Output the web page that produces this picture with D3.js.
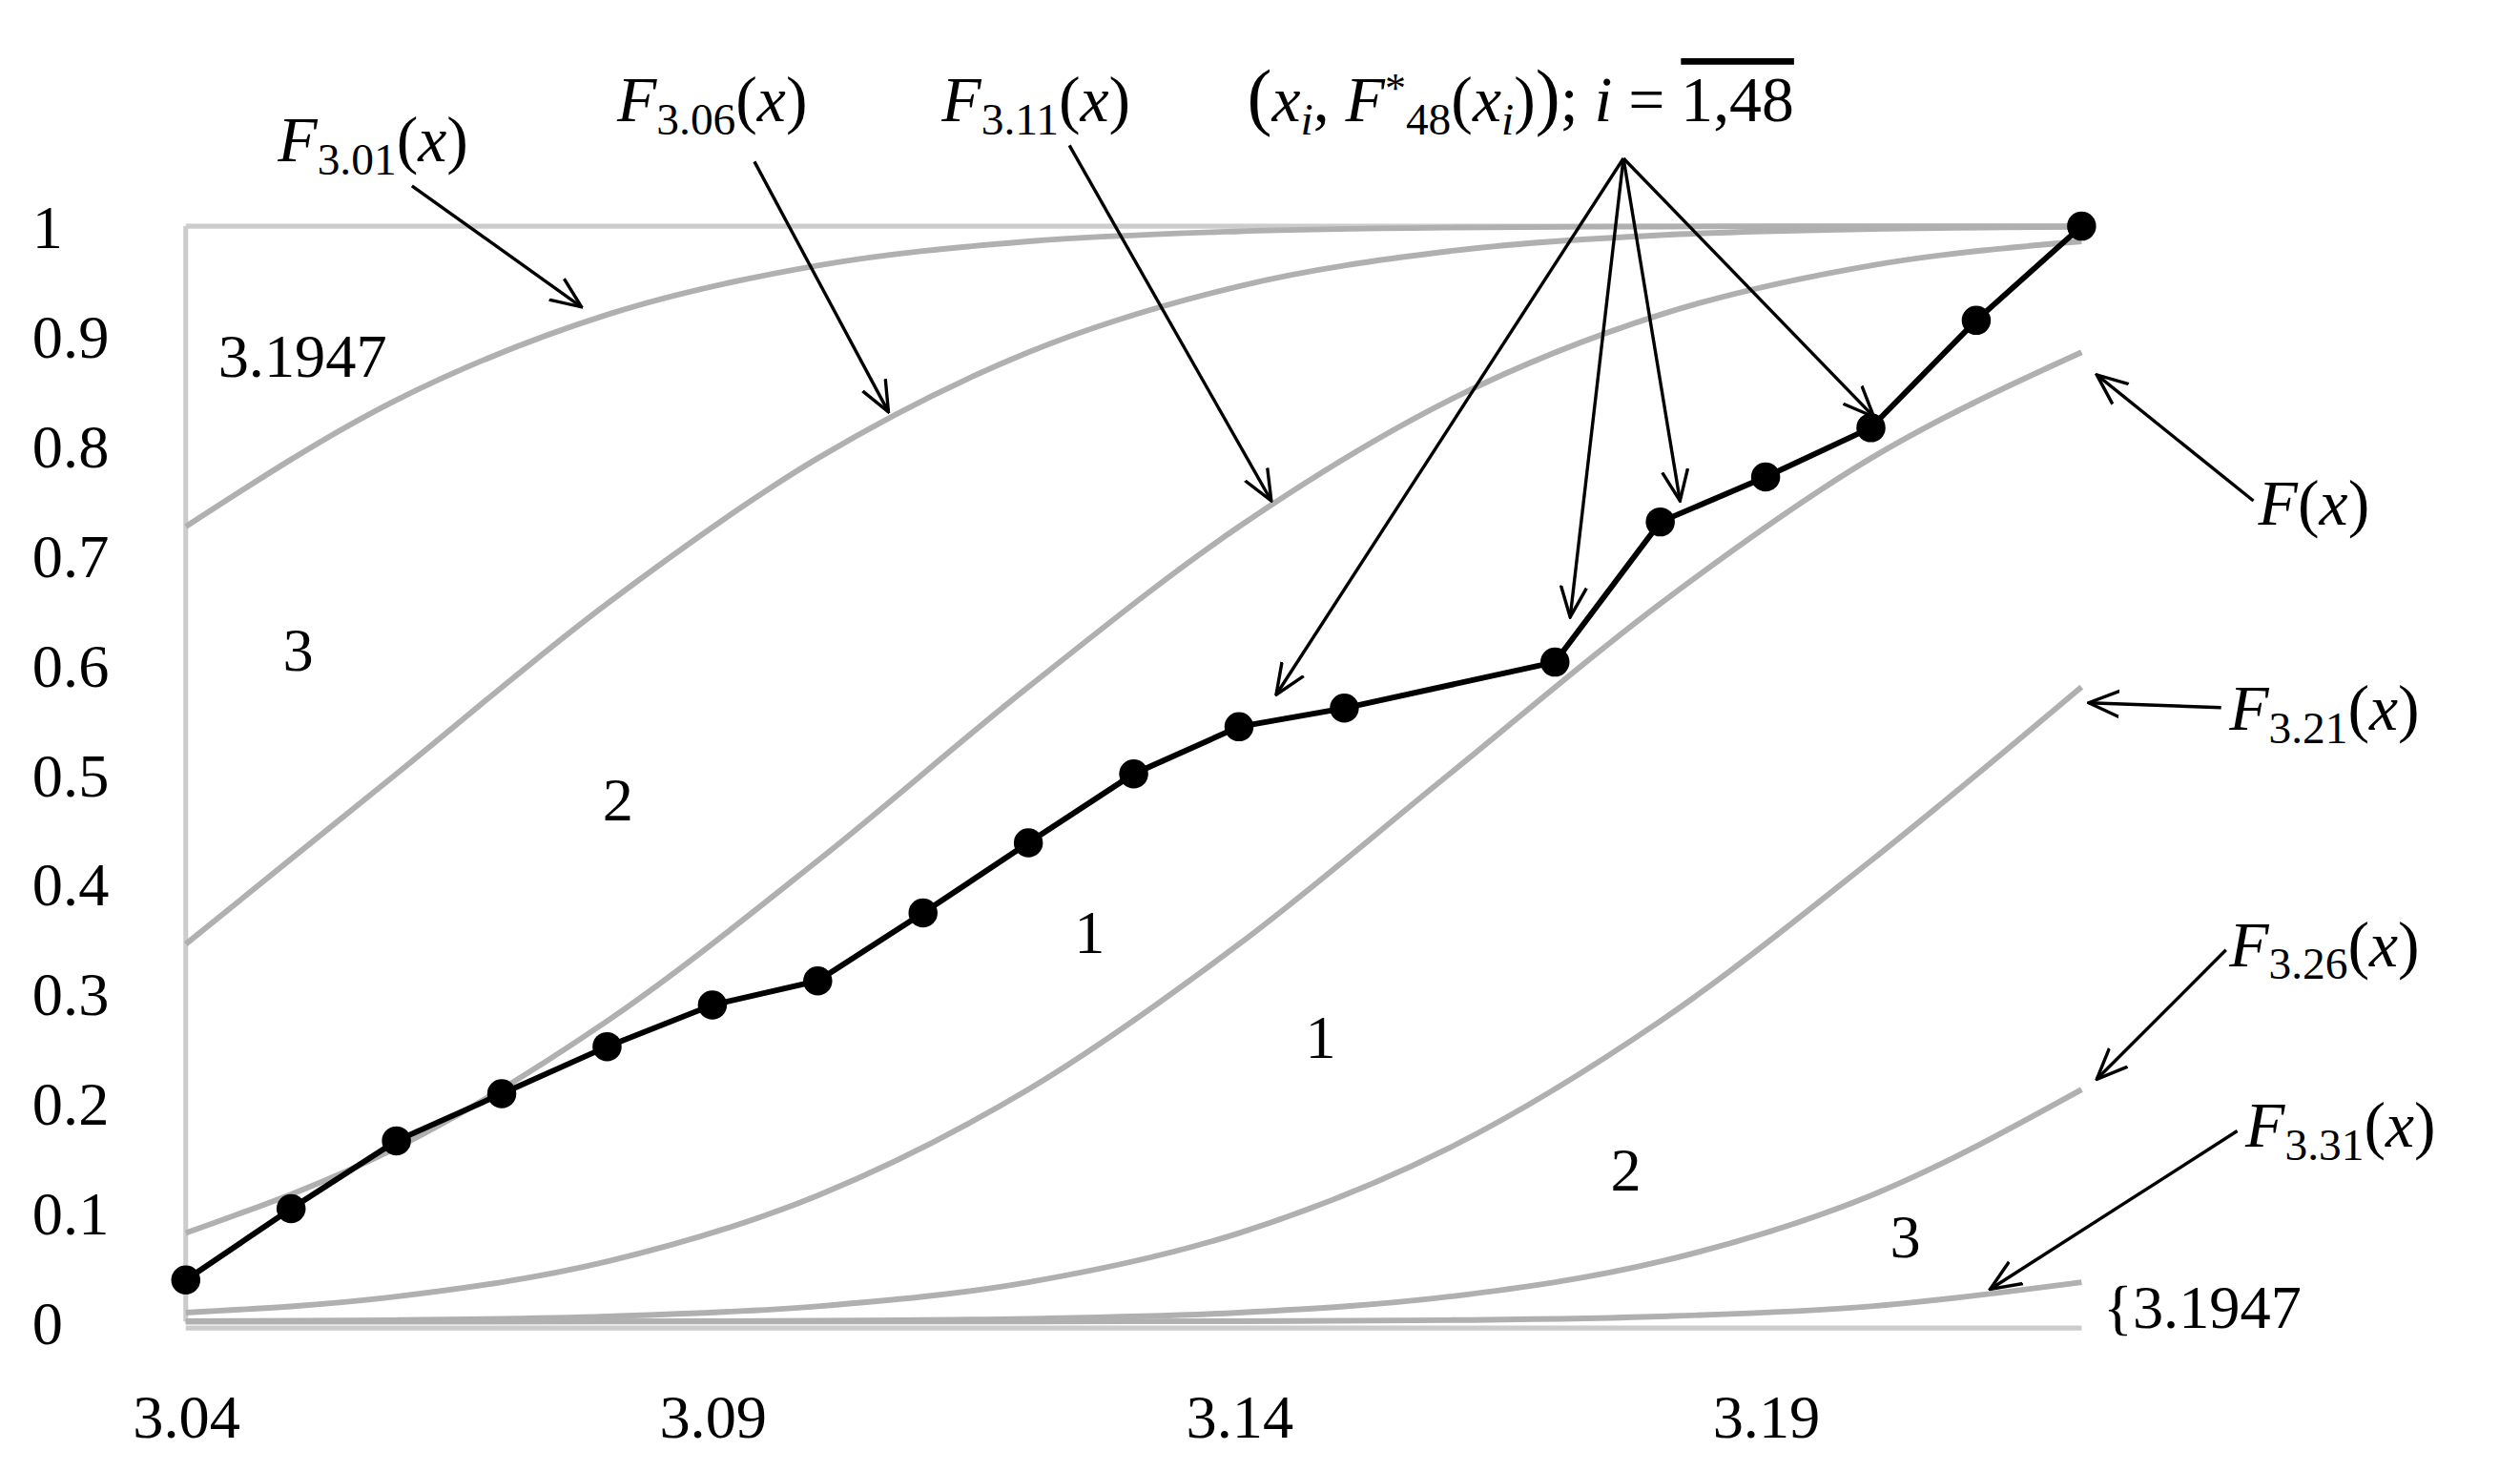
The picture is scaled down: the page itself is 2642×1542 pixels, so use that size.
<!DOCTYPE html>
<html><head><meta charset="utf-8">
<script src="https://cdn.jsdelivr.net/npm/d3@7"></script>
<style>body{margin:0;background:#fff}svg{display:block}</style>
</head><body><svg id="c"></svg>
<script>
const xTicks=[3.04,3.09,3.14,3.19];
const yTicks=[0,0.1,0.2,0.3,0.4,0.5,0.6,0.7,0.8,0.9,1];
const gridX=[3.04,3.06,3.08,3.10,3.12,3.14,3.16,3.18,3.20,3.22];
const F301=[0.7257,0.8413,0.9192,0.9641,0.9861,0.9953,0.9987,0.9997,0.9999,1.0];
const F306=[0.3446,0.5,0.6554,0.7881,0.8849,0.9452,0.9772,0.9918,0.9974,0.9993];
const F311=[0.0808,0.1587,0.2743,0.4207,0.5793,0.7257,0.8413,0.9192,0.9641,0.9861];
const F316=[0.0082,0.0228,0.0548,0.1151,0.2119,0.3446,0.5,0.6554,0.7881,0.8849];
const F321=[0.0003,0.0013,0.0047,0.0139,0.0359,0.0808,0.1587,0.2743,0.4207,0.5793];
const F326=[0,0,0.0002,0.0007,0.0026,0.0082,0.0228,0.0548,0.1151,0.2119];
const F331=[0,0,0,0,0.0001,0.0003,0.0013,0.0047,0.0139,0.0359];
const ptX=[3.04,3.05,3.06,3.07,3.08,3.09,3.10,3.11,3.12,3.13,3.14,3.15,3.17,3.18,3.19,3.20,3.21,3.22];
const ptY=[0.038,0.103,0.165,0.208,0.251,0.289,0.311,0.373,0.437,0.5,0.543,0.56,0.602,0.73,0.771,0.816,0.914,1.0];

const svg=d3.select("#c").attr("width",2642).attr("height",1542).attr("viewBox","0 0 1560 910.5");
const x=d3.scaleLinear().domain([3.04,3.19]).range([115,1093]);
const y=d3.scaleLinear().domain([0,1]).range([818,140]);
const font="Liberation Serif";

svg.append("line").attr("x1",x(3.04)).attr("x2",x(3.04)).attr("y1",y(1)).attr("y2",y(0)).attr("stroke","#ccc").attr("stroke-width",3);
svg.append("line").attr("x1",x(3.04)).attr("x2",x(3.22)).attr("y1",y(0)+4).attr("y2",y(0)+4).attr("stroke","#ccc").attr("stroke-width",3);
svg.append("line").attr("x1",x(3.04)).attr("x2",x(3.22)).attr("y1",y(1)).attr("y2",y(1)).attr("stroke","#ccc").attr("stroke-width",3);

const yAx=svg.append("g").call(d3.axisLeft(y).tickValues(yTicks).tickSize(0).tickFormat(d=>d3.format("")(d)));
yAx.select(".domain").remove();
yAx.selectAll("text").attr("font-family",font).attr("font-size",38).attr("fill","#000").attr("text-anchor","start").attr("x",20).attr("dy","0.35em");
const xAx=svg.append("g").attr("transform",`translate(0,${y(0)+50})`).call(d3.axisBottom(x).tickValues(xTicks).tickSize(0).tickFormat(d3.format(".2f")));
xAx.select(".domain").remove();
xAx.selectAll("text").attr("font-family",font).attr("font-size",38).attr("fill","#000").attr("dy","0.5em");

const line=d3.line().x((d,i)=>x(gridX[i])).y(d=>y(d)).curve(d3.curveMonotoneX);
[F301,F306,F311,F316,F321,F326,F331].forEach(s=>{
  svg.append("path").attr("d",line(s)).attr("fill","none").attr("stroke","#b0b0b0").attr("stroke-width",3.5);
});

const pl=d3.line().x((d,i)=>x(ptX[i])).y(d=>y(d));
svg.append("path").attr("d",pl(ptY)).attr("fill","none").attr("stroke","#000").attr("stroke-width",3.5);
svg.selectAll("circle.p").data(ptY).join("circle").attr("cx",(d,i)=>x(ptX[i])).attr("cy",d=>y(d)).attr("r",9).attr("fill","#000");

svg.append("defs").append("marker").attr("id","ah").attr("viewBox","0 0 20 20").attr("refX",19).attr("refY",10)
 .attr("markerWidth",20).attr("markerHeight",20).attr("markerUnits","userSpaceOnUse").attr("orient","auto")
 .append("path").attr("d","M0,2 L19,10 L0,18").attr("fill","none").attr("stroke","#000").attr("stroke-width",2);
const arrows=[[255,115,360,190],[467,100,550,255],[662,90,787,310],[1005,98,790,430],[1005,98,972,382],[1005,98,1040,310],[1005,98,1160,258],
 [1395,310,1298,232],[1375,438,1293,435],[1378,588,1298,668],[1385,700,1232,798]];
arrows.forEach(a=>svg.append("line").attr("x1",a[0]).attr("y1",a[1]).attr("x2",a[2]).attr("y2",a[3]).attr("stroke","#000").attr("stroke-width",2).attr("marker-end","url(#ah)"));

function flabel(px,py,sub){
  const t=svg.append("text").attr("x",px).attr("y",py).attr("font-family",font).attr("font-size",40);
  t.append("tspan").attr("font-style","italic").text("F");
  if(sub) t.append("tspan").attr("font-size",28).attr("dy",8).text(sub);
  t.append("tspan").attr("dy",sub?-8:0).text("(");
  t.append("tspan").attr("font-style","italic").text("x");
  t.append("tspan").text(")");
}
flabel(172,100,"3.01");flabel(382,75,"3.06");flabel(583,75,"3.11");
flabel(1398,325,"");flabel(1380,452,"3.21");flabel(1380,598,"3.26");flabel(1390,710,"3.31");
const t=svg.append("text").attr("x",772).attr("y",75).attr("font-family",font).attr("font-size",40);
t.append("tspan").attr("font-size",46).text("(");
t.append("tspan").attr("font-style","italic").text("x");
t.append("tspan").attr("font-size",28).attr("font-style","italic").attr("dy",8).text("i");
t.append("tspan").attr("dy",-8).text(", ");
t.append("tspan").attr("font-style","italic").text("F");
t.append("tspan").attr("font-size",26).attr("dy",-12).text("*");
t.append("tspan").attr("font-size",28).attr("dy",20).text("48");
t.append("tspan").attr("dy",-8).text("(");
t.append("tspan").attr("font-style","italic").text("x");
t.append("tspan").attr("font-size",28).attr("font-style","italic").attr("dy",8).text("i");
t.append("tspan").attr("dy",-8).text(")");
t.append("tspan").attr("font-size",46).text(")");
t.append("tspan").text("; ");
t.append("tspan").attr("font-style","italic").text("i");
t.append("tspan").text(" = ");
t.append("tspan").attr("text-decoration","overline").text("1,48");

const plain=[["3.1947",135,233],["3",175,415],["2",373,508],["1",665,590],["1",808,655],["2",997,737],["3",1170,778],["{3.1947",1302,822]];
plain.forEach(p=>svg.append("text").attr("x",p[1]).attr("y",p[2]).attr("font-family",font).attr("font-size",38).text(p[0]));
</script></body></html>
